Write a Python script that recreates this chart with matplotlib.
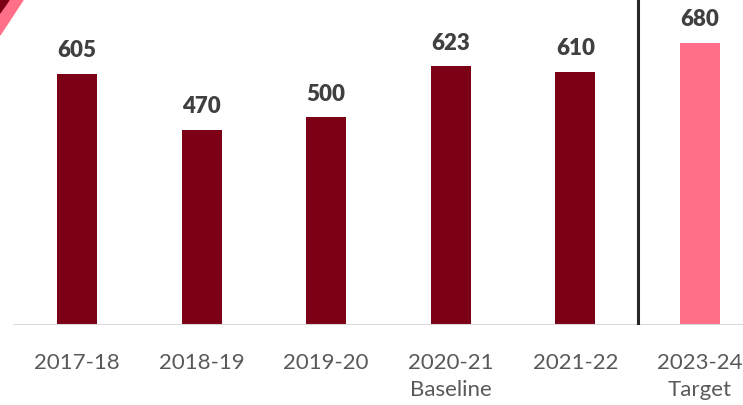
import matplotlib.pyplot as plt
from matplotlib.patches import Polygon

# Data
years = ["2017-18", "2018-19", "2019-20", "2020-21\nBaseline", "2021-22", "2023-24\nTarget"]
values = [605, 470, 500, 623, 610, 680]
is_target = [False, False, False, False, False, True]

DARK_RED = "#7b0016"
PINK = "#ff6f87"

plt.rcParams['font.family'] = ['Lato', 'DejaVu Sans']

fig = plt.figure(figsize=(7.43, 4.05), dpi=100)
ax = fig.add_axes([0, 80 / 405, 1, 325 / 405])

x = list(range(len(years)))
colors = [PINK if t else DARK_RED for t in is_target]
bars = ax.bar(x, values, width=0.32, color=colors, zorder=2)

# Value labels above each bar
for b, v in zip(bars, values):
    ax.annotate(str(v), (b.get_x() + b.get_width() / 2, v), xytext=(0, 9),
                textcoords="offset points", ha="center", va="bottom",
                fontsize=16, fontweight="heavy", color="#404040")

ax.set_xlim(-0.618, 5.345)
ax.set_ylim(0, 783)

# Baseline and separator between actuals and target
ax.axhline(0, xmin=15 / 743, xmax=1, color="#d9d9d9", lw=1.5, zorder=3)
ax.axvline(4.5, color="#262626", lw=2.2, zorder=3)

ax.set_xticks(x)
ax.set_xticklabels(years, fontsize=16, color="#595959", linespacing=1.45)
ax.tick_params(axis="x", length=0, pad=20)
ax.set_yticks([])
for s in ax.spines.values():
    s.set_visible(False)

# Corner ribbon
fig.patches.append(Polygon([(0, 1), (23 / 743, 1), (0, 1 - 35 / 405)],
                           closed=True, color=PINK, transform=fig.transFigure))
fig.patches.append(Polygon([(0, 1), (9 / 743, 1), (0, 1 - 13 / 405)],
                           closed=True, color=DARK_RED, transform=fig.transFigure))

fig.savefig("out.png", dpi=100)
